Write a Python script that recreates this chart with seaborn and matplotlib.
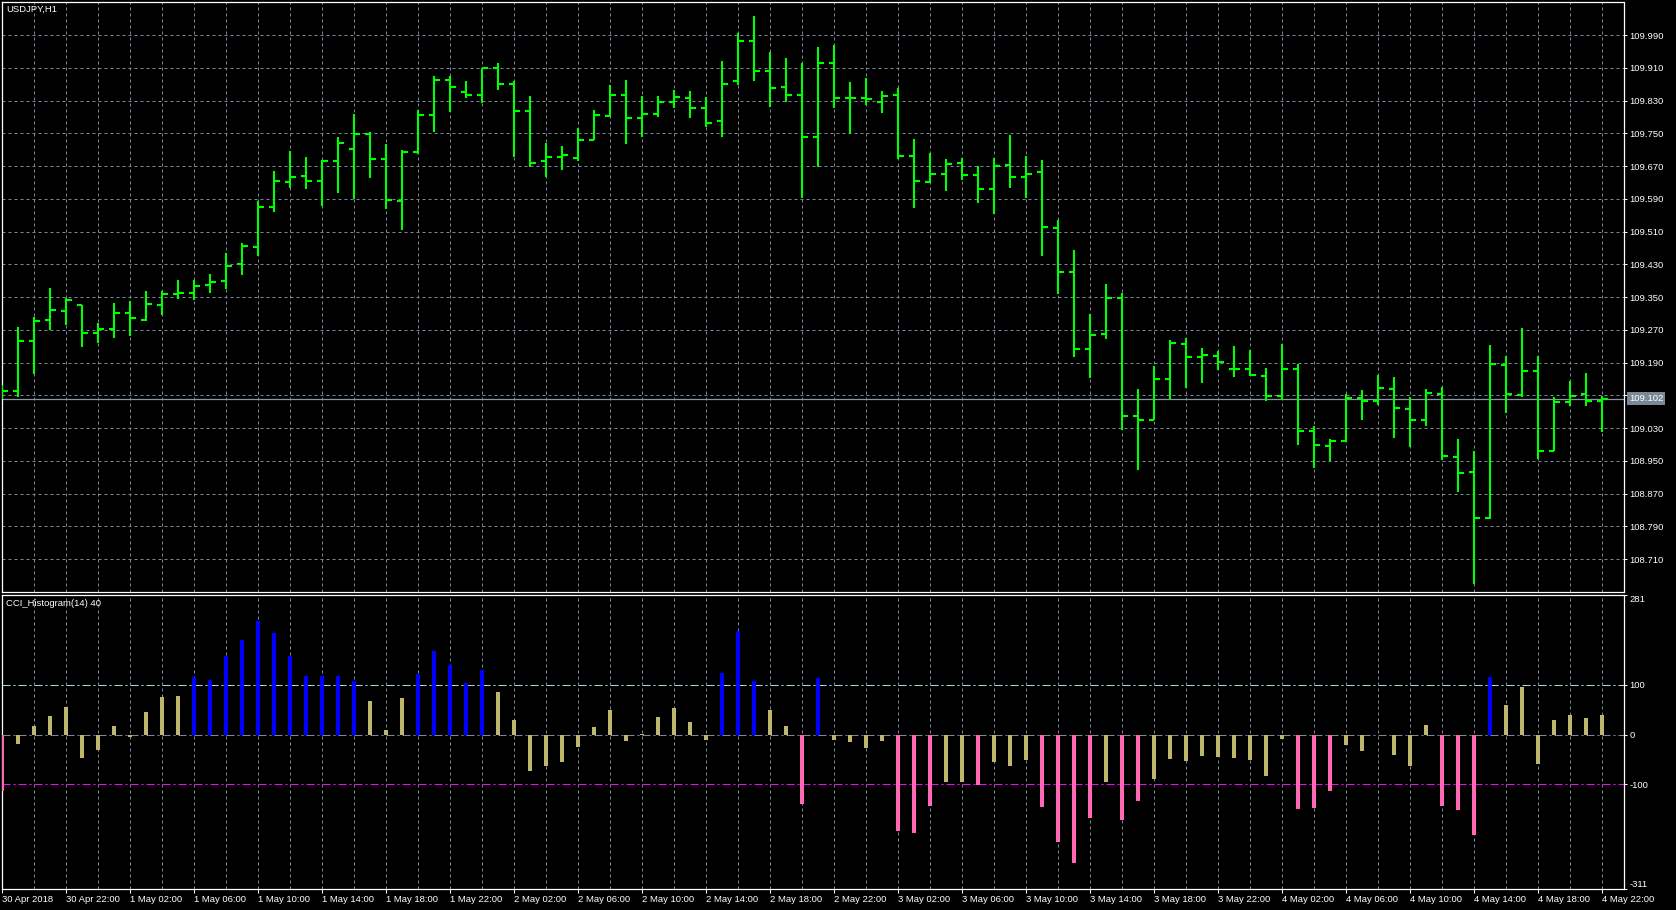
import numpy as np
import pandas as pd
import matplotlib
matplotlib.use("Agg")
import matplotlib.pyplot as plt
import matplotlib.transforms as mtransforms
import seaborn as sns

# ---------------- data ----------------
symbol_title = "USDJPY,H1"
indicator_title = "CCI_Histogram(14) 40"

bar_open = [109.110, 109.121, 109.243, 109.293, 109.317, 109.330, 109.261, 109.271, 109.310, 109.293,
            109.331, 109.358, 109.359, 109.379, 109.390, 109.431, 109.473, 109.571, 109.632, 109.645,
            109.634, 109.683, 109.712, 109.748, 109.688, 109.584, 109.705, 109.795, 109.880, 109.852,
            109.843, 109.910, 109.870, 109.805, 109.682, 109.693, 109.690, 109.733, 109.792, 109.843,
            109.787, 109.797, 109.827, 109.837, 109.812, 109.781, 109.878, 109.976, 109.903, 109.864,
            109.844, 109.742, 109.922, 109.837, 109.837, 109.827, 109.844, 109.695, 109.631, 109.651,
            109.677, 109.649, 109.615, 109.673, 109.643, 109.656, 109.519, 109.412, 109.224, 109.259,
            109.348, 109.059, 109.050, 109.150, 109.235, 109.203, 109.207, 109.173, 109.173, 109.156,
            109.107, 109.174, 109.022, 108.985, 108.998, 109.103, 109.095, 109.125, 109.077, 109.050,
            109.113, 108.958, 108.922, 108.810, 109.185, 109.111, 109.170, 108.975, 109.093, 109.114,
            109.095]

bar_high = [109.135, 109.277, 109.302, 109.372, 109.348, 109.331, 109.287, 109.335, 109.340, 109.365,
            109.365, 109.392, 109.392, 109.406, 109.457, 109.481, 109.585, 109.658, 109.707, 109.693,
            109.684, 109.742, 109.796, 109.752, 109.724, 109.709, 109.807, 109.891, 109.891, 109.878,
            109.910, 109.921, 109.878, 109.842, 109.725, 109.719, 109.763, 109.807, 109.868, 109.880,
            109.841, 109.841, 109.856, 109.853, 109.838, 109.926, 109.994, 110.036, 109.949, 109.933,
            109.921, 109.960, 109.966, 109.874, 109.884, 109.853, 109.860, 109.735, 109.703, 109.686,
            109.689, 109.670, 109.690, 109.746, 109.694, 109.685, 109.538, 109.465, 109.309, 109.383,
            109.361, 109.126, 109.182, 109.246, 109.250, 109.225, 109.217, 109.231, 109.221, 109.177,
            109.236, 109.187, 109.034, 109.003, 109.113, 109.124, 109.160, 109.155, 109.106, 109.126,
            109.129, 109.003, 108.975, 109.234, 109.205, 109.274, 109.205, 109.106, 109.144, 109.164,
            109.107]

bar_low = [109.100, 109.105, 109.161, 109.269, 109.281, 109.228, 109.237, 109.249, 109.255, 109.291,
           109.305, 109.345, 109.343, 109.361, 109.370, 109.404, 109.450, 109.558, 109.617, 109.614,
           109.573, 109.605, 109.589, 109.640, 109.564, 109.514, 109.699, 109.754, 109.801, 109.835,
           109.823, 109.856, 109.693, 109.667, 109.644, 109.660, 109.683, 109.733, 109.792, 109.724,
           109.742, 109.790, 109.812, 109.788, 109.766, 109.742, 109.868, 109.878, 109.815, 109.826,
           109.593, 109.668, 109.811, 109.747, 109.819, 109.800, 109.687, 109.568, 109.628, 109.610,
           109.637, 109.580, 109.553, 109.617, 109.593, 109.450, 109.357, 109.204, 109.153, 109.248,
           109.026, 108.927, 109.050, 109.102, 109.128, 109.140, 109.171, 109.154, 109.156, 109.095,
           109.099, 108.989, 108.932, 108.949, 108.996, 109.049, 109.087, 109.006, 108.983, 109.034,
           108.953, 108.874, 108.648, 108.808, 109.067, 109.106, 108.955, 108.973, 109.083, 109.083,
           109.020]

bar_close = [109.121, 109.243, 109.291, 109.319, 109.343, 109.261, 109.271, 109.312, 109.298, 109.333,
             109.358, 109.359, 109.378, 109.387, 109.426, 109.475, 109.571, 109.634, 109.644, 109.634,
             109.683, 109.727, 109.749, 109.688, 109.586, 109.705, 109.795, 109.880, 109.864, 109.843,
             109.910, 109.870, 109.805, 109.677, 109.693, 109.698, 109.733, 109.794, 109.843, 109.787,
             109.797, 109.827, 109.839, 109.812, 109.775, 109.870, 109.976, 109.903, 109.861, 109.844,
             109.742, 109.922, 109.837, 109.837, 109.833, 109.842, 109.695, 109.634, 109.651, 109.676,
             109.649, 109.615, 109.669, 109.643, 109.651, 109.522, 109.412, 109.224, 109.258, 109.348,
             109.059, 109.050, 109.150, 109.238, 109.203, 109.209, 109.191, 109.173, 109.159, 109.107,
             109.174, 109.022, 108.988, 108.998, 109.103, 109.095, 109.128, 109.079, 109.050, 109.115,
             108.961, 108.920, 108.810, 109.186, 109.113, 109.170, 108.973, 109.093, 109.107, 109.095,
             109.102]

cci_values = [-114, -20, 17, 38, 56, -48, -32, 17, -5, 46,
              75, 78, 116, 110, 157, 189, 229, 205, 157, 118,
              118, 118, 108, 68, 10, 73, 122, 167, 139, 104,
              130, 86, 30, -74, -64, -56, -25, 16, 50, -13,
              1, 36, 54, 26, -10, 124, 209, 108, 50, 18,
              -139, 114, -10, -16, -28, -12, -193, -197, -143, -96,
              -96, -101, -56, -64, -52, -145, -215, -258, -167, -96,
              -171, -134, -89, -50, -54, -44, -46, -48, -51, -84,
              -8, -149, -147, -114, -22, -34, -1, -42, -64, 20,
              -143, -151, -201, 116, 60, 95, -60, 30, 40, 33,
              40]

time_labels = ["30 Apr 2018", "30 Apr 22:00",
               "1 May 02:00", "1 May 06:00", "1 May 10:00", "1 May 14:00", "1 May 18:00", "1 May 22:00",
               "2 May 02:00", "2 May 06:00", "2 May 10:00", "2 May 14:00", "2 May 18:00", "2 May 22:00",
               "3 May 02:00", "3 May 06:00", "3 May 10:00", "3 May 14:00", "3 May 18:00", "3 May 22:00",
               "4 May 02:00", "4 May 06:00", "4 May 10:00", "4 May 14:00", "4 May 18:00", "4 May 22:00"]

price_ticks = [108.710, 108.790, 108.870, 108.950, 109.030, 109.110, 109.190, 109.270, 109.350,
               109.430, 109.510, 109.590, 109.670, 109.750, 109.830, 109.910, 109.990]
price_range = (108.6287, 110.0699)
current_price = 109.102

cci_levels = [100, 0, -100]
cci_range = (-311, 281)
cci_ticks = [281, 100, 0, -100, -311]

# ---------------- style ----------------
sns.set_style("dark", rc={
    "axes.facecolor": "black",
    "figure.facecolor": "black",
    "axes.edgecolor": "white",
    "text.color": "white",
    "xtick.color": "white",
    "ytick.color": "white",
    "axes.grid": False,
})
plt.rcParams["font.family"] = ["Liberation Sans", "DejaVu Sans"]

FS = 6.8
GREEN = "#00FF00"
GRID = "#778899"
BLUE = "#0000FF"
KHAKI = "#BDB76B"
PINK = "#FF69B4"

W_PX, H_PX = 1676, 910
fig = plt.figure(figsize=(W_PX / 100, H_PX / 100), dpi=100)
fig.patch.set_facecolor("black")


def rect(x0, y0, x1, y1):
    return [x0 / W_PX, 1 - y1 / H_PX, (x1 - x0) / W_PX, (y1 - y0) / H_PX]


ax = fig.add_axes(rect(2, 2.3, 1623.5, 592.3))
ax2 = fig.add_axes(rect(2, 594.7, 1623.5, 889.3))

idx = np.arange(len(bar_open))
xlim = (-0.00625, 101.3375)

# ---------------- grids ----------------
grid_kw = dict(color=GRID, lw=0.72, linestyle=(0, (3, 3)), zorder=1)
for a in (ax, ax2):
    for gx in range(2, len(idx), 2):
        a.axvline(gx, **grid_kw)
for p in price_ticks:
    ax.axhline(p, **grid_kw)

# ---------------- OHLC bars ----------------
tick_len = 0.34
ax.vlines(idx, bar_low, bar_high, color=GREEN, lw=1.5, capstyle="butt", zorder=3)
ax.hlines(bar_open, idx - tick_len, idx, color=GREEN, lw=1.5, capstyle="butt", zorder=3)
ax.hlines(bar_close, idx, idx + tick_len, color=GREEN, lw=1.5, capstyle="butt", zorder=3)

ax.axhline(current_price, color="#8a97a5", lw=0.9, zorder=2)

ax.set_xlim(*xlim)
ax.set_ylim(*price_range)

# ---------------- CCI histogram ----------------
df = pd.DataFrame({"bar": idx, "cci": cci_values})
df["zone"] = np.where(df["cci"] > cci_levels[0], "above",
                      np.where(df["cci"] < cci_levels[2], "below", "inside"))
sns.barplot(data=df, x="bar", y="cci", hue="zone",
            hue_order=["above", "inside", "below"],
            palette=[BLUE, KHAKI, PINK], native_scale=True, dodge=False,
            width=0.27, saturation=1, linewidth=0, errorbar=None,
            legend=False, ax=ax2, zorder=3)

level_colors = ["#ADD8E6", GRID, "#FF00FF"]
for lv, col in zip(cci_levels, level_colors):
    ax2.axhline(lv, color=col, lw=0.72, linestyle=(0, (8, 3, 2, 3)), zorder=2)

ax2.set_xlim(*xlim)
ax2.set_ylim(*cci_range)
ax2.set_xlabel("")
ax2.set_ylabel("")

# ---------------- axes / ticks ----------------
for a in (ax, ax2):
    for s in a.spines.values():
        s.set_visible(True)
        s.set_color("white")
        s.set_linewidth(0.9)
    a.yaxis.tick_right()
    a.tick_params(axis="y", which="both", direction="out", length=2.5, width=0.72,
                  pad=1.8, labelsize=FS, colors="white", left=False, right=True,
                  labelleft=False, labelright=True)

ax.set_xticks([])
ax.tick_params(axis="x", bottom=False, labelbottom=False)
ax.set_yticks(price_ticks)
ax.set_yticklabels([f"{p:.3f}" for p in price_ticks])

ax2.set_yticks(cci_ticks)
ax2.set_yticklabels([str(v) for v in cci_ticks])
ylabs = ax2.get_yticklabels()
ylabs[0].set_va("top")
ylabs[-1].set_va("bottom")

ax2.set_xticks(list(range(0, len(idx), 4)))
ax2.set_xticklabels(time_labels, ha="left")
ax2.tick_params(axis="x", direction="out", length=3.0, width=0.72, pad=0.8,
                labelsize=FS, colors="white", bottom=True, labelbottom=True)

# ---------------- texts ----------------
off1 = mtransforms.ScaledTranslation(4.4 / 100, -7.0 / 100, fig.dpi_scale_trans)
ax.text(0, 1, symbol_title, transform=ax.transAxes + off1, ha="left", va="center",
        fontsize=FS, color="white", zorder=10)
off2 = mtransforms.ScaledTranslation(4.4 / 100, -8.6 / 100, fig.dpi_scale_trans)
ax2.text(0, 1, indicator_title, transform=ax2.transAxes + off2, ha="left", va="center",
         fontsize=FS, color="white", zorder=10)

blend = mtransforms.blended_transform_factory(ax.transAxes, ax.transData)
ax.text(1.0035, current_price, f"{current_price:.3f}", transform=blend, ha="left",
        va="center", fontsize=FS, color="white", zorder=20, clip_on=False,
        bbox=dict(boxstyle="square,pad=0.18", fc="#7a8896", ec="none"))

fig.savefig("out.png", dpi=100, facecolor="black")
